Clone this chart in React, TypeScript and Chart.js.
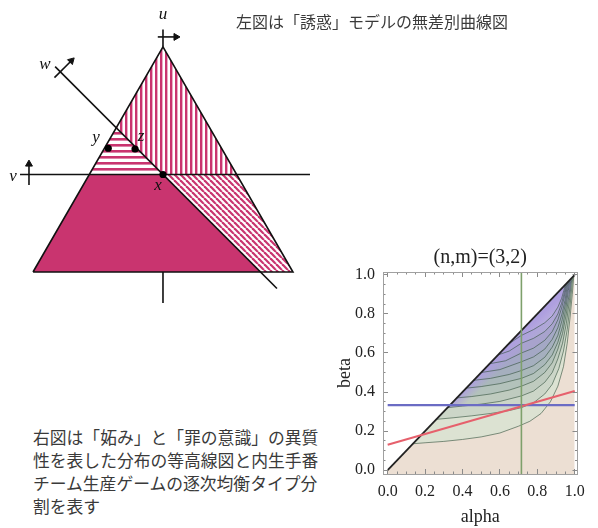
import React, { useEffect, useRef } from 'react';
import { Chart, registerables } from 'chart.js';

Chart.register(...registerables);

type Pt = [number, number];

// ---------------- Left diagram (「誘惑」モデル) ----------------
const TRIANGLE: Pt[] = [[-1, 0], [0, 1.732], [1, 0], [-1, 0]];
const SOLID_REGION: Pt[] = [[-1, 0], [-0.567, 0.75], [0, 0.75], [0.75, 0]];
const H_STRIPE_REGION: Pt[] = [[-0.567, 0.75], [-0.359, 1.109], [0, 0.75]];
const V_STRIPE_REGION: Pt[] = [[-0.359, 1.109], [0, 1.732], [0.567, 0.75], [0, 0.75]];
const D_STRIPE_REGION: Pt[] = [[0, 0.75], [0.567, 0.75], [1, 0], [0.75, 0]];
const V_AXIS: Pt[] = [[-1.1, 0.75], [1.131, 0.75]];
const W_AXIS: Pt[] = [[-0.83, 1.58], [0.877, -0.127]];
const U_AXIS: Pt[] = [[0, 1.732], [0, 1.865]];
const LOWER_STEM: Pt[] = [[0, 0], [0, -0.238]];
const U_ARROW: Pt[] = [[-0.04, 1.808], [0.1, 1.808]];
const V_ARROW: Pt[] = [[-1.031, 0.67], [-1.031, 0.83]];
const W_ARROW: Pt[] = [[-0.835, 1.495], [-0.705, 1.625]];
const MARKED_POINTS: Pt[] = [[0, 0.75], [-0.421, 0.952], [-0.215, 0.946]];
const LEFT_X_RANGE: Pt = [-1.254, 1.285];
const LEFT_Y_RANGE: Pt = [-0.369, 2.092];

// ---------------- Right chart ((n,m)=(3,2)) ----------------
const MAJOR_TICKS = [0, 0.2, 0.4, 0.6, 0.8, 1.0];
const MINOR_TICKS = [0.05, 0.1, 0.15, 0.25, 0.3, 0.35, 0.45, 0.5, 0.55, 0.65, 0.7, 0.75, 0.85, 0.9, 0.95];
const X_RANGE: Pt = [-0.025, 1.015];
const Y_RANGE: Pt = [-0.02, 1.015];
const DIAGONAL: Pt[] = [[0, 0], [1, 1]];
const BLUE_LINE: Pt[] = [[0, 0.333], [1, 0.333]];
const RED_LINE: Pt[] = [[0, 0.13], [1, 0.405]];
const GREEN_LINE: Pt[] = [[0.715, -0.02], [0.715, 1.015]];

const CONTOUR_1: Pt[] = [[0.135, 0.135], [0.2, 0.14], [0.3, 0.147], [0.4, 0.157], [0.5, 0.17], [0.6, 0.19], [0.7, 0.225], [0.76, 0.25], [0.82, 0.29], [0.87, 0.35], [0.91, 0.43], [0.94, 0.53], [0.96, 0.65], [0.975, 0.78], [0.987, 0.9], [0.995, 0.995]];
const CONTOUR_2: Pt[] = [[0.26, 0.26], [0.35, 0.268], [0.45, 0.278], [0.55, 0.29], [0.65, 0.305], [0.715, 0.32], [0.78, 0.345], [0.84, 0.39], [0.88, 0.44], [0.915, 0.52], [0.94, 0.61], [0.96, 0.72], [0.975, 0.84], [0.99, 0.99]];
const CONTOUR_3: Pt[] = [[0.32, 0.32], [0.4, 0.328], [0.5, 0.338], [0.6, 0.352], [0.715, 0.38], [0.78, 0.405], [0.84, 0.45], [0.88, 0.5], [0.91, 0.57], [0.935, 0.65], [0.955, 0.75], [0.972, 0.87], [0.985, 0.985]];
const CONTOUR_4: Pt[] = [[0.37, 0.37], [0.45, 0.377], [0.55, 0.39], [0.65, 0.41], [0.715, 0.43], [0.78, 0.455], [0.84, 0.5], [0.88, 0.55], [0.91, 0.62], [0.935, 0.7], [0.955, 0.8], [0.97, 0.9], [0.98, 0.98]];
const CONTOUR_5: Pt[] = [[0.42, 0.42], [0.5, 0.428], [0.6, 0.443], [0.715, 0.47], [0.78, 0.495], [0.84, 0.54], [0.88, 0.59], [0.91, 0.655], [0.935, 0.735], [0.953, 0.83], [0.966, 0.92], [0.975, 0.975]];
const CONTOUR_6: Pt[] = [[0.46, 0.46], [0.55, 0.47], [0.65, 0.49], [0.715, 0.51], [0.78, 0.535], [0.84, 0.578], [0.88, 0.63], [0.91, 0.69], [0.933, 0.77], [0.95, 0.85], [0.962, 0.925], [0.97, 0.97]];
const CONTOUR_7: Pt[] = [[0.5, 0.5], [0.6, 0.515], [0.715, 0.555], [0.78, 0.58], [0.84, 0.62], [0.88, 0.67], [0.91, 0.73], [0.932, 0.8], [0.948, 0.87], [0.958, 0.93], [0.965, 0.965]];
const CONTOUR_8: Pt[] = [[0.545, 0.545], [0.63, 0.56], [0.715, 0.6], [0.78, 0.625], [0.84, 0.665], [0.88, 0.71], [0.91, 0.77], [0.93, 0.83], [0.945, 0.89], [0.96, 0.96]];
const CONTOUR_9: Pt[] = [[0.59, 0.59], [0.65, 0.61], [0.715, 0.65], [0.78, 0.675], [0.84, 0.71], [0.88, 0.75], [0.91, 0.8], [0.93, 0.855], [0.945, 0.91], [0.955, 0.955]];
const CONTOUR_10: Pt[] = [[0.64, 0.64], [0.68, 0.668], [0.715, 0.69], [0.78, 0.72], [0.84, 0.755], [0.88, 0.79], [0.91, 0.835], [0.93, 0.88], [0.942, 0.92], [0.95, 0.95]];
const CONTOURS: Pt[][] = [CONTOUR_1, CONTOUR_2, CONTOUR_3, CONTOUR_4, CONTOUR_5, CONTOUR_6, CONTOUR_7, CONTOUR_8, CONTOUR_9, CONTOUR_10];
const BAND_COLORS = ['#dce2d2', '#ccd6c8', '#bfcbbf', '#b3c2bb', '#aab8ba', '#a5afbe', '#a4a8c5', '#a8a3cd', '#afa8d6', '#bcb2e0'];
const EDGE_PURPLE = '#ae9fdf';

const PINK = '#c9346f';
const TAN = '#ecdfd3';
const SERIF = '"Liberation Serif", "Times New Roman", serif';
const CJK = '"Noto Sans CJK JP", "Noto Sans", sans-serif';

const toXY = (pts: Pt[]) => pts.map(([x, y]) => ({ x, y }));

function makePattern(kind: 'v' | 'h' | 'd'): CanvasPattern | string {
  const size = kind === 'v' ? 5 : 6;
  const c = document.createElement('canvas');
  c.width = size;
  c.height = size;
  const g = c.getContext('2d');
  if (!g) return PINK;
  g.fillStyle = '#ffffff';
  g.fillRect(0, 0, size, size);
  g.fillStyle = PINK;
  g.strokeStyle = PINK;
  if (kind === 'v') g.fillRect(0, 0, 2.4, size);
  else if (kind === 'h') g.fillRect(0, 0, size, 2.6);
  else {
    g.lineWidth = 2.2;
    for (const k of [-1, 0, 1]) {
      g.beginPath();
      g.moveTo(k * size, 0);
      g.lineTo(k * size + size, size);
      g.stroke();
    }
  }
  return g.createPattern(c, 'repeat') ?? PINK;
}

function LeftDiagram() {
  const ref = useRef<HTMLCanvasElement>(null);
  useEffect(() => {
    if (!ref.current) return;
    const line = (pts: Pt[], extra: any = {}) => ({
      data: toXY(pts), borderColor: '#111', borderWidth: 1.6, pointRadius: 0, fill: false, tension: 0, order: 5, ...extra,
    });
    const region = (pts: Pt[], bg: any) => ({
      data: toXY(pts), backgroundColor: bg, borderWidth: 0, borderColor: 'rgba(0,0,0,0)', pointRadius: 0, fill: 'shape', tension: 0, order: 10,
    });
    const arrow = (pts: Pt[], rot: number) => line(pts, {
      pointRadius: [0, 4], pointStyle: 'triangle', pointRotation: [0, rot], pointBackgroundColor: '#111', pointBorderColor: '#111', pointBorderWidth: 1, order: 4,
    });
    const chart = new Chart(ref.current, {
      type: 'line',
      data: {
        datasets: [
          region(SOLID_REGION, PINK),
          region(H_STRIPE_REGION, makePattern('h')),
          region(V_STRIPE_REGION, makePattern('v')),
          region(D_STRIPE_REGION, makePattern('d')),
          line(TRIANGLE),
          line(V_AXIS),
          line(W_AXIS),
          line(U_AXIS),
          line(LOWER_STEM),
          arrow(U_ARROW, 90),
          arrow(V_ARROW, 0),
          arrow(W_ARROW, 45),
          { data: toXY(MARKED_POINTS), showLine: false, pointRadius: 3.6, pointBackgroundColor: '#000', pointBorderColor: '#000', borderWidth: 0, order: 0 },
        ] as any,
      },
      options: {
        animation: false, responsive: true, maintainAspectRatio: false, events: [],
        layout: { padding: 0, autoPadding: false },
        plugins: { legend: { display: false }, tooltip: { enabled: false }, title: { display: false } },
        scales: {
          x: { type: 'linear', display: false, min: LEFT_X_RANGE[0], max: LEFT_X_RANGE[1] },
          y: { type: 'linear', display: false, min: LEFT_Y_RANGE[0], max: LEFT_Y_RANGE[1] },
        },
      } as any,
    });
    return () => chart.destroy();
  }, []);
  return <canvas ref={ref} />;
}

function RightChart() {
  const ref = useRef<HTMLCanvasElement>(null);
  useEffect(() => {
    if (!ref.current) return;
    const tickFont = { family: SERIF, size: 16 };
    const titleFont = { family: SERIF, size: 18 };
    const setTicks = (vals: number[]) => (s: any) => { s.ticks = vals.map((v) => ({ value: v })); };
    const frameAxis = (axis: 'x' | 'y', position: string, vals: number[], len: number, showBorder: boolean, weight: number) => ({
      type: 'linear', axis, position, weight,
      min: axis === 'x' ? X_RANGE[0] : Y_RANGE[0],
      max: axis === 'x' ? X_RANGE[1] : Y_RANGE[1],
      afterBuildTicks: setTicks(vals),
      afterFit: (s: any) => { if (axis === 'x') s.height = 0; else s.width = 0; },
      ticks: { display: false, autoSkip: false },
      grid: { drawOnChartArea: false, drawTicks: true, tickLength: len, color: '#8a8a8a', lineWidth: 1, z: 1 },
      border: { display: showBorder, color: '#a0a0a0', width: 1, z: 2 },
    });
    // band colour: purple tint near the diagonal, fading to the band colour away from it
    const bandFill = (i: number) => (ctx: any) => {
      const chart = ctx.chart;
      const base = BAND_COLORS[i];
      if (!chart.chartArea || i < 2) return base;
      const sx = chart.scales.x;
      const sy = chart.scales.y;
      const g = chart.ctx.createLinearGradient(
        sx.getPixelForValue(0.5), sy.getPixelForValue(0.5),
        sx.getPixelForValue(0.545), sy.getPixelForValue(0.455),
      );
      g.addColorStop(0, EDGE_PURPLE);
      g.addColorStop(1, base);
      return g;
    };
    const contourSets = CONTOURS.map((c, i) => ({
      data: toXY(c), backgroundColor: bandFill(i), borderColor: 'rgba(50,80,60,0.6)', borderWidth: 1,
      pointRadius: 0, fill: 'shape', tension: 0, order: 29 - i,
    }));
    const chart = new Chart(ref.current, {
      type: 'line',
      data: {
        datasets: [
          { data: toXY(DIAGONAL), backgroundColor: TAN, borderWidth: 0, borderColor: 'rgba(0,0,0,0)', pointRadius: 0, fill: 'start', order: 40 },
          ...contourSets,
          { data: toXY(DIAGONAL), borderColor: '#222', borderWidth: 1.8, pointRadius: 0, fill: false, order: 3 },
          { data: toXY(BLUE_LINE), borderColor: '#6b6cc4', borderWidth: 2.2, pointRadius: 0, fill: false, order: 2 },
          { data: toXY(RED_LINE), borderColor: '#e6606c', borderWidth: 2, pointRadius: 0, fill: false, order: 1 },
          { data: toXY(GREEN_LINE), borderColor: '#7ea06c', borderWidth: 1.6, pointRadius: 0, fill: false, order: 0 },
        ] as any,
      },
      options: {
        animation: false, responsive: true, maintainAspectRatio: false, events: [],
        layout: { padding: { top: 0, right: 10, bottom: 0, left: 0 }, autoPadding: false },
        plugins: {
          legend: { display: false },
          tooltip: { enabled: false },
          title: {
            display: true, text: '(n,m)=(3,2)', fullSize: false, color: '#222',
            font: { family: SERIF, size: 20, weight: 'normal' }, padding: { top: 6, bottom: 2 },
          },
        },
        scales: {
          x: {
            type: 'linear', position: 'bottom', weight: 1, min: X_RANGE[0], max: X_RANGE[1],
            afterBuildTicks: setTicks(MAJOR_TICKS),
            afterFit: (s: any) => { s.height = 54; },
            ticks: { callback: (v: any) => Number(v).toFixed(1), font: tickFont, color: '#222', padding: 13, maxRotation: 0, autoSkip: false },
            grid: { drawOnChartArea: false, drawTicks: true, tickLength: -5, color: '#8a8a8a', z: 1 },
            border: { display: true, color: '#a0a0a0', width: 1, z: 2 },
            title: { display: true, text: 'alpha', font: titleFont, color: '#222', padding: { top: 0, bottom: 0 } },
          },
          xMinor: frameAxis('x', 'bottom', MINOR_TICKS, -2.5, false, 0),
          xTop: frameAxis('x', 'top', MAJOR_TICKS, -5, true, 1),
          xTopMinor: frameAxis('x', 'top', MINOR_TICKS, -2.5, false, 0),
          y: {
            type: 'linear', position: 'left', weight: 1, min: Y_RANGE[0], max: Y_RANGE[1],
            afterBuildTicks: setTicks(MAJOR_TICKS),
            afterFit: (s: any) => { s.width = 53; },
            ticks: { callback: (v: any) => Number(v).toFixed(1), font: tickFont, color: '#222', padding: 13, autoSkip: false },
            grid: { drawOnChartArea: false, drawTicks: true, tickLength: -5, color: '#8a8a8a', z: 1 },
            border: { display: true, color: '#a0a0a0', width: 1, z: 2 },
            title: { display: true, text: 'beta', font: titleFont, color: '#222', padding: { top: 4, bottom: 0 } },
          },
          yMinor: frameAxis('y', 'left', MINOR_TICKS, -2.5, false, 0),
          yRight: frameAxis('y', 'right', MAJOR_TICKS, -5, true, 1),
          yRightMinor: frameAxis('y', 'right', MINOR_TICKS, -2.5, false, 0),
        } as any,
      } as any,
    });
    return () => chart.destroy();
  }, []);
  return <canvas ref={ref} />;
}

const labelStyle = (x: number, y: number): React.CSSProperties => ({
  position: 'absolute', left: x, top: y, transform: 'translate(-50%, -50%)',
  fontFamily: SERIF, fontStyle: 'italic', fontSize: 17, color: '#111', lineHeight: 1,
});

export default function App() {
  return (
    <div style={{ position: 'fixed', left: 0, top: 0, width: 598, height: 528, background: '#fff', overflow: 'hidden' }}>
      <div style={{ position: 'absolute', left: 0, top: 0, width: 330, height: 320 }}>
        <LeftDiagram />
      </div>
      <span style={labelStyle(163, 13)}>u</span>
      <span style={labelStyle(13, 175)}>v</span>
      <span style={labelStyle(45, 63)}>w</span>
      <span style={labelStyle(96, 136)}>y</span>
      <span style={labelStyle(141, 135)}>z</span>
      <span style={labelStyle(158, 184)}>x</span>

      <div style={{ position: 'absolute', left: 236, top: 10, fontFamily: CJK, fontSize: 16, lineHeight: '23px', color: '#3a3a3a', whiteSpace: 'nowrap' }}>
        左図は「誘惑」モデルの無差別曲線図
      </div>

      <div style={{ position: 'absolute', left: 33, top: 426, fontFamily: CJK, fontSize: 16.8, lineHeight: '23px', color: '#3a3a3a', whiteSpace: 'nowrap' }}>
        右図は「妬み」と「罪の意識」の異質<br />
        性を表した分布の等高線図と内生手番<br />
        チーム生産ゲームの逐次均衡タイプ分<br />
        割を表す
      </div>

      <div style={{ position: 'absolute', left: 330, top: 240, width: 268, height: 288 }}>
        <RightChart />
      </div>
    </div>
  );
}
